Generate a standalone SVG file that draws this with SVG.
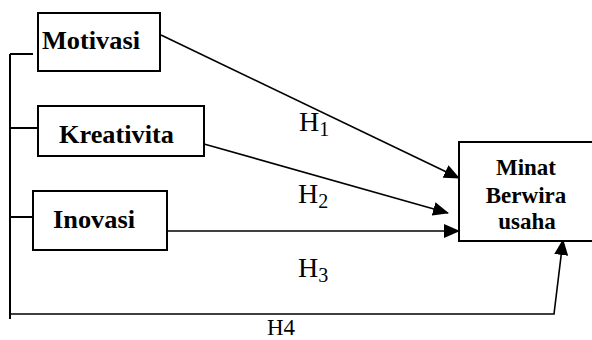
<svg xmlns="http://www.w3.org/2000/svg" width="592" height="340" viewBox="0 0 592 340">
  <style>
    .box { fill: #fff; stroke: #000; stroke-width: 2; }
    .lbl { font-family: "Times New Roman", "Liberation Serif", serif; font-weight: 700; font-size: 25px; fill: #000; }
    .lbl2 { font-family: "Times New Roman", "Liberation Serif", serif; font-weight: 700; font-size: 23px; fill: #000; text-anchor: middle; }
    .h { font-family: "Liberation Serif", "Times New Roman", serif; font-size: 28px; fill: #000; }
    .sub { font-size: 20px; }
    .h4 { font-family: "Liberation Serif", "Times New Roman", serif; font-size: 23px; fill: #000; }
    .ln { fill: none; stroke: #000; stroke-width: 2; }
    .arr { fill: none; stroke: #000; stroke-width: 1.6; marker-end: url(#ah); }
  </style>
  <defs>
    <marker id="ah" markerUnits="userSpaceOnUse" markerWidth="16" markerHeight="14" refX="15" refY="7" orient="auto">
      <path d="M0,0 L16,7 L0,14 Z" fill="#000"/>
    </marker>
  </defs>
  <rect width="592" height="340" fill="#fff"/>

  <g id="connectors">
    <path class="ln" d="M10,54 V319"/>
    <path class="ln" d="M10,54 H33"/>
    <path class="ln" d="M10,128 H38"/>
    <path class="ln" d="M10,217 H33"/>
    <path class="arr" d="M161,35 L459,178"/>
    <path class="arr" d="M204,144 L448,213"/>
    <path class="arr" d="M167,231 L459,231"/>
    <path class="arr" d="M10,314 H554 L563,240"/>
  </g>

  <g id="motivasi">
    <rect class="box" x="38" y="13" width="122" height="58"/>
    <text class="lbl" x="42" y="49" textLength="98" lengthAdjust="spacingAndGlyphs">Motivasi</text>
  </g>
  <g id="kreativita">
    <rect class="box" x="38" y="106" width="166" height="50"/>
    <text class="lbl" x="59" y="143" textLength="115" lengthAdjust="spacingAndGlyphs">Kreativita</text>
  </g>
  <g id="inovasi">
    <rect class="box" x="33" y="191" width="134" height="59"/>
    <text class="lbl" x="53" y="228" textLength="82" lengthAdjust="spacingAndGlyphs">Inovasi</text>
  </g>
  <g id="minat">
    <path class="box" d="M600,142 H459 V241 H600"/>
    <text class="lbl2" x="526" y="175">Minat</text>
    <text class="lbl2" x="526" y="203">Berwira</text>
    <text class="lbl2" x="527" y="229">usaha</text>
  </g>

  <g id="labels">
    <text class="h" x="299" y="131">H<tspan class="sub" dy="5">1</tspan></text>
    <text class="h" x="298" y="203">H<tspan class="sub" dy="5">2</tspan></text>
    <text class="h" x="298" y="277">H<tspan class="sub" dy="5">3</tspan></text>
    <text class="h4" x="267" y="335">H4</text>
  </g>
</svg>
